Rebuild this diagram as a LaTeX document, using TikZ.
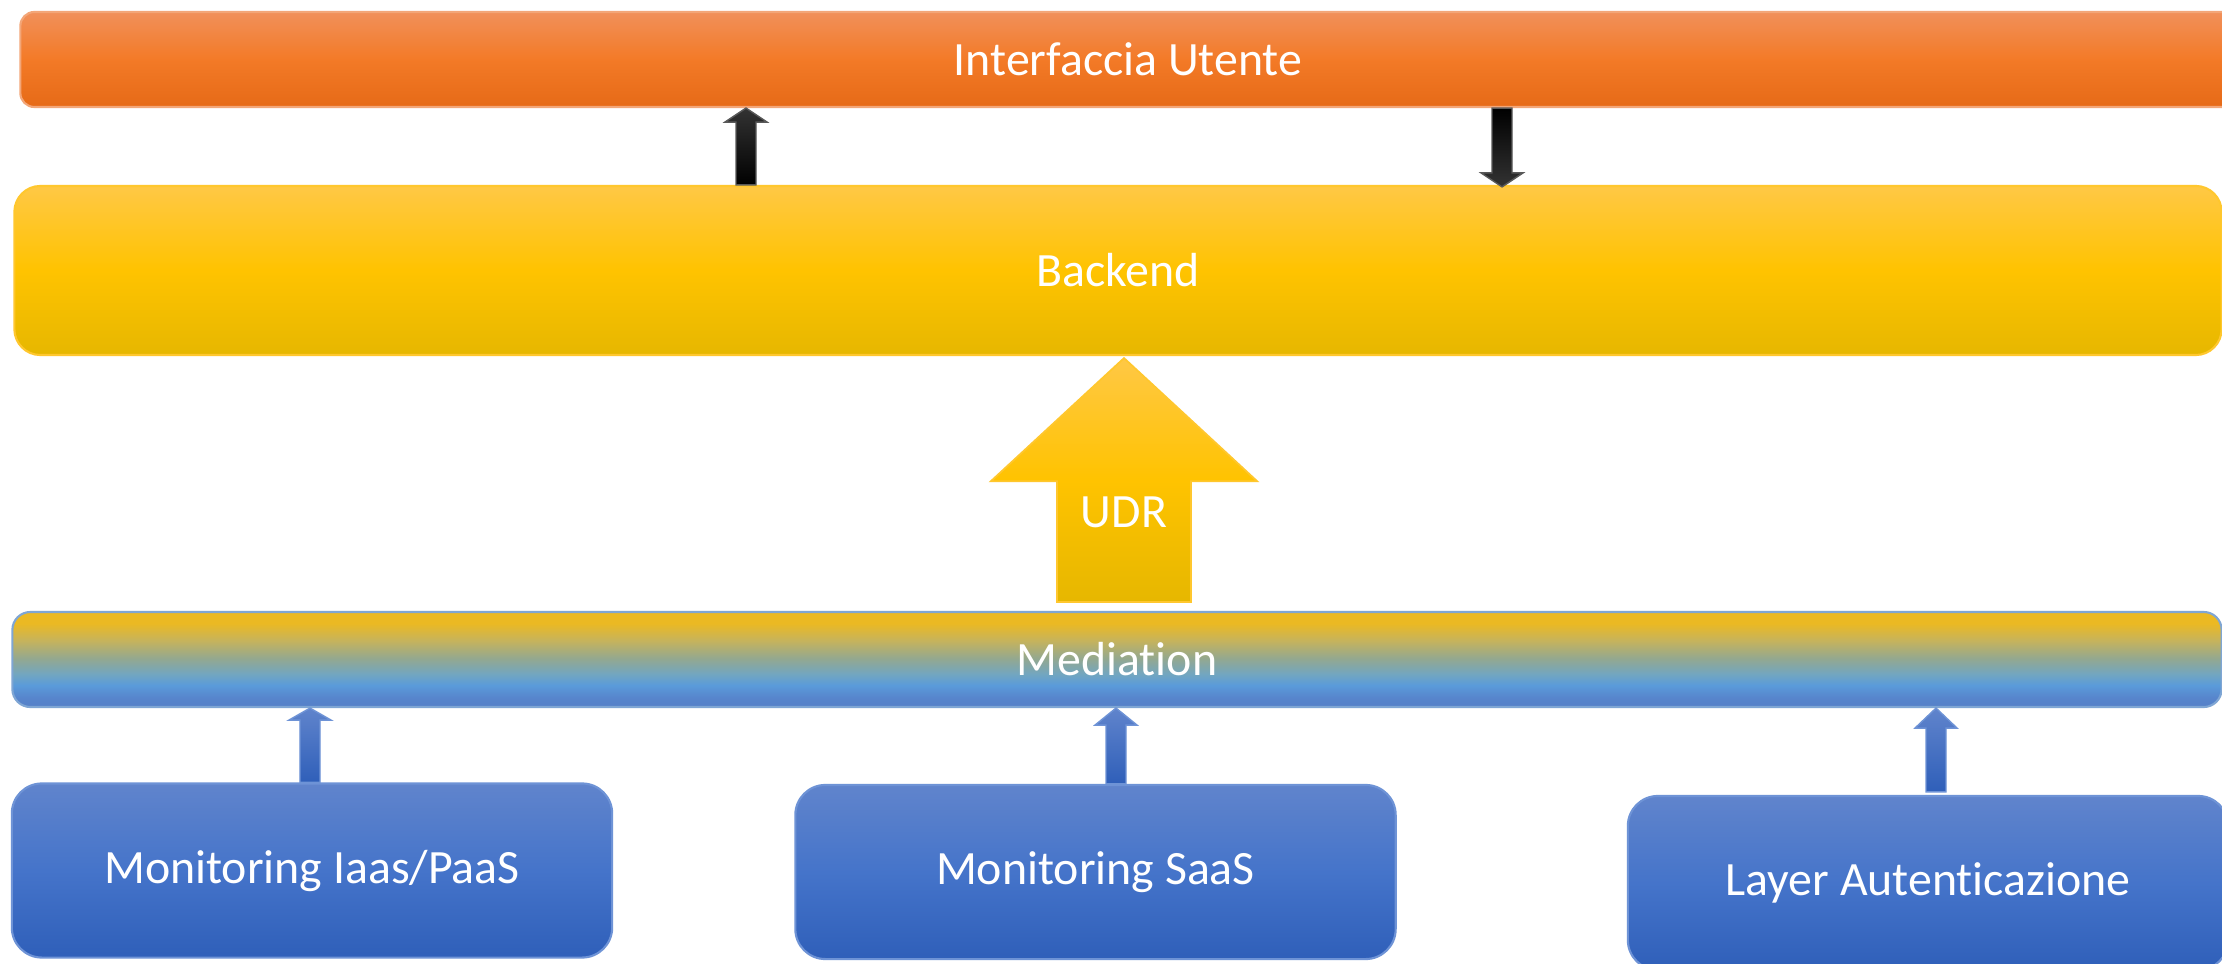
\documentclass[tikz,border=0pt]{standalone}
\usepackage{fontspec}
\setmainfont{Carlito}[Ligatures=NoCommon]
\usetikzlibrary{calc}

% palette
\definecolor{orTop}{HTML}{F1905A}
\definecolor{orMid}{HTML}{F37A27}
\definecolor{orBot}{HTML}{E66A17}
\definecolor{orEdge}{HTML}{F3A678}
\definecolor{goTop}{HTML}{FFC845}
\definecolor{goMid}{HTML}{FFC300}
\definecolor{goBot}{HTML}{E6B700}
\definecolor{goEdge}{HTML}{FFC72E}
\definecolor{blTop}{HTML}{6084CC}
\definecolor{blMid}{HTML}{4574CA}
\definecolor{blBot}{HTML}{2F5FB9}
\definecolor{blEdge}{HTML}{6E93D6}
\definecolor{mdA}{HTML}{5580C8}
\definecolor{mdB}{HTML}{5785CC}
\definecolor{mdC}{HTML}{5A9BDA}
\definecolor{mdD}{HTML}{73A6BF}
\definecolor{mdE}{HTML}{93A890}
\definecolor{mdF}{HTML}{C6B35C}
\definecolor{mdG}{HTML}{EBB923}
\definecolor{mdEdge}{HTML}{7FA6D4}

% gold-to-blue blend of the mediation layer (25bp = bottom, 75bp = top)
\pgfdeclareverticalshading{medshade}{100bp}{%
  color(0bp)=(mdA); color(25bp)=(mdA); color(30bp)=(mdB);
  color(36.5bp)=(mdC); color(42.5bp)=(mdD); color(50.5bp)=(mdE);
  color(60bp)=(mdF); color(69bp)=(mdG); color(75bp)=(mdG); color(100bp)=(mdG)}

% block arrow: #1 style, #2 base, #3 tip, #4 shaft half width,
% #5 head half width, #6 head length
\newcommand\blockarrow[6]{%
  \coordinate (ba) at (#2);
  \coordinate (ti) at (#3);
  \coordinate (hb) at ($(ti)!#6!(ba)$);
  \path[#1] ($(ba)!#4!90:(ti)$) -- ($(hb)!#4!-90:(ba)$)
    -- ($(hb)!#5!-90:(ba)$) -- (ti) -- ($(hb)!#5!90:(ba)$)
    -- ($(hb)!#4!90:(ba)$) -- ($(ba)!#4!-90:(ti)$) -- cycle;
}

\begin{document}
\begin{tikzpicture}[x=0.01cm,y=-0.01cm,
  lbl/.style={text=white,font=\fontsize{13.6pt}{16pt}\selectfont},
  layer/.style={lbl,inner sep=0pt,line width=0.6pt},
  orangebar/.style={layer,draw=orEdge,top color=orTop,bottom color=orBot,middle color=orMid},
  goldbar/.style={layer,draw=goEdge,top color=goTop,bottom color=goBot,middle color=goMid},
  medbar/.style={layer,draw=mdEdge,shading=medshade},
  bluebox/.style={layer,draw=blEdge,top color=blTop,bottom color=blBot,middle color=blMid,
    minimum width=6cm,minimum height=1.74cm,rounded corners=0.3cm},
  blackup/.style={top color=black!80,bottom color=black,draw=black!65,line width=0.4pt},
  blackdown/.style={top color=black,bottom color=black!80,draw=black!65,line width=0.4pt},
  bluearrow/.style={top color=blTop,bottom color=blBot,draw=blEdge,line width=0.4pt},
  goldarrow/.style={top color=goTop,bottom color=goBot,middle color=goMid,draw=goEdge,line width=0.5pt}]

\path[use as bounding box,clip] (0,0) rectangle (2222,964);
\fill[white] (0,0) rectangle (2222,964);

% layers
\node[orangebar,rounded corners=0.14cm,minimum width=22.14cm,minimum height=0.95cm]
  (ui) at (1128,59.5) {Interfaccia Utente};
\node[goldbar,rounded corners=0.26cm,minimum width=22.06cm,minimum height=1.69cm]
  (backend) at (1118,270.5) {Backend};
\node[medbar,rounded corners=0.18cm,minimum width=22.08cm,minimum height=0.95cm]
  (med) at (1117,659.5) {Mediation};

% sources
\node[bluebox] (mon1) at (312,870.5) {Monitoring Iaas/PaaS};
\node[bluebox] (mon2) at (1095.5,872) {Monitoring SaaS};
\node[bluebox] (auth) at (1928,883) {Layer Autenticazione};

% arrow axes
\coordinate (xUp) at (746,0);
\coordinate (xDn) at (1502,0);
\coordinate (xUdr) at (1124,0);
\coordinate (xA) at (310,0);
\coordinate (xB) at (1116,0);
\coordinate (xC) at (1936,0);

% backend <-> user interface
\blockarrow{blackup}{xUp |- backend.north}{xUp |- ui.south}{0.1cm}{0.21cm}{0.14cm}
\blockarrow{blackdown}{xDn |- ui.south}{$(xDn |- backend.north)+(0,2)$}{0.1cm}{0.21cm}{0.14cm}

% usage data records up to the backend
\blockarrow{goldarrow}{$(xUdr |- med.north)+(0,-9)$}{$(xUdr |- backend.south)+(0,2)$}{0.67cm}{1.33cm}{1.23cm}
\node[lbl] (udr) at (1124,512) {UDR};

% sources into mediation
\blockarrow{bluearrow}{xA |- mon1.north}{xA |- med.south}{0.1cm}{0.21cm}{0.12cm}
\blockarrow{bluearrow}{xB |- mon2.north}{xB |- med.south}{0.1cm}{0.21cm}{0.17cm}
\blockarrow{bluearrow}{$(xC |- auth.north)+(0,-3)$}{xC |- med.south}{0.1cm}{0.21cm}{0.2cm}
\end{tikzpicture}
\end{document}
